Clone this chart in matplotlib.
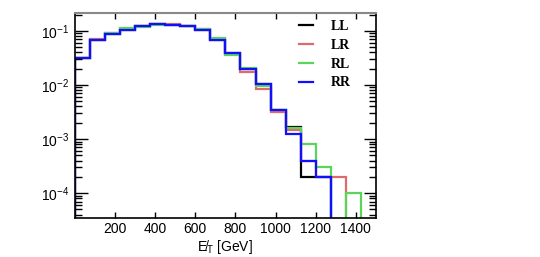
import numpy as np
import matplotlib
matplotlib.use("Agg")
import matplotlib.pyplot as plt
from matplotlib.ticker import LogLocator, FixedLocator

plt.rcParams['font.family'] = ['Liberation Sans', 'DejaVu Sans']
plt.rcParams['mathtext.fontset'] = 'custom'
plt.rcParams['mathtext.rm'] = 'Liberation Sans'
plt.rcParams['mathtext.it'] = 'Liberation Sans:italic'

# binning of the missing-ET histogram
edges = np.arange(0, 1501, 75)

# normalised bin contents
LL = [0.031, 0.068, 0.087, 0.104, 0.125, 0.133, 0.129, 0.125, 0.104, 0.069,
      0.0386, 0.0195, 0.0105, 0.0034, 0.0017, 2e-4, 2e-4, 0, 0, 0]
LR = [0.031, 0.072, 0.093, 0.106, 0.124, 0.133, 0.135, 0.125, 0.110, 0.070,
      0.038, 0.0176, 0.0084, 0.0032, 0.00147, 4e-4, 2e-4, 2e-4, 0, 0]
RL = [0.032, 0.068, 0.093, 0.112, 0.120, 0.131, 0.128, 0.122, 0.106, 0.073,
      0.036, 0.0204, 0.0096, 0.0034, 0.0016, 8e-4, 3e-4, 0, 1e-4, 0]
RR = [0.031, 0.068, 0.087, 0.104, 0.125, 0.133, 0.129, 0.125, 0.104, 0.069,
      0.0386, 0.0195, 0.0105, 0.0034, 0.00124, 4e-4, 2e-4, 0, 0, 0]

labels = ['LL', 'LR', 'RL', 'RR']
colors = ['black', '#e06a6a', '#5ad45a', '#1010ff']
xticks = [200, 400, 600, 800, 1000, 1200, 1400]

ymin, ymax = 3.44e-5, 0.213

fig = plt.figure(figsize=(5.4, 2.57), dpi=100)
ax = fig.add_axes([0.139, 0.151, 0.557, 0.798])

for vals, lab, col in zip([LL, LR, RL, RR], labels, colors):
    v = np.array(vals, dtype=float)
    v = np.where(v > 0, v, ymin * 0.01)  # empty bins drop to the frame bottom
    ax.stairs(v, edges, color=col, lw=1.6, label=lab)

ax.set_yscale('log')
ax.set_xlim(0, 1500)
ax.set_ylim(ymin, ymax)

ax.xaxis.set_major_locator(FixedLocator(xticks))
ax.yaxis.set_major_locator(LogLocator(base=10, numticks=10))
ax.yaxis.set_minor_locator(LogLocator(base=10, subs=np.arange(2, 10), numticks=10))
ax.tick_params(axis='both', which='both', direction='in', top=True, right=True,
               labelsize=10, width=1.0, colors='black')
ax.tick_params(axis='x', which='major', length=4, pad=3)
ax.tick_params(axis='y', which='major', length=9, pad=4)
ax.tick_params(axis='y', which='minor', length=5)

for s in ['left', 'bottom', 'right']:
    ax.spines[s].set_linewidth(1.2)
ax.spines['top'].set_linewidth(1.5)
ax.spines['top'].set_color('#888888')

ax.set_xlabel('E\u0338$_{\\mathrm{T}}$ [GeV]', fontsize=10, labelpad=1)

# legend (ROOT style, no frame)
leg = ax.legend(loc='upper left', bbox_to_anchor=(0.704, 1.028), frameon=False,
                handlelength=0.95, handletextpad=1.3, labelspacing=0.42,
                prop={'family': 'Liberation Serif', 'weight': 'bold', 'size': 10})

fig.savefig('out.png', dpi=100)
